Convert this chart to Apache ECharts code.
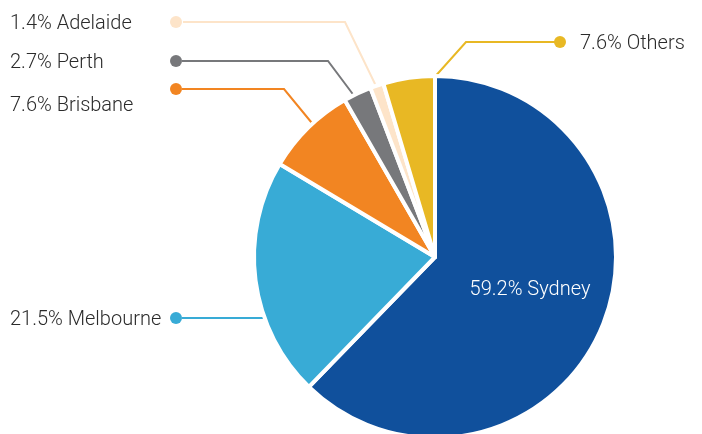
<!DOCTYPE html>
<html>
<head>
<meta charset="utf-8">
<script src="https://cdn.jsdelivr.net/npm/echarts@6/dist/echarts.min.js"></script>
<style>
  html, body { margin: 0; padding: 0; background: #fff; }
  #pieChart { width: 702px; height: 434px; }
</style>
</head>
<body>
<div id="pieChart"></div>
<script>
// data
const cities = ['Sydney', 'Melbourne', 'Brisbane', 'Perth', 'Adelaide', 'Others']
// share as printed in the labels (%)
const printedShares = [59.2, 21.5, 7.6, 2.7, 1.4, 7.6]
// share as the slices are drawn (measured from slice angles, %)
const sliceShares = [62.2, 21.3, 8.1, 2.5, 1.2, 4.6]

const colors = ['#10509c', '#38abd6', '#f28522', '#77787b', '#fde4c9', '#e8b824']

// where each label sits and how its leader line runs (Sydney sits inside)
const labelPlaces = [
  { x: 530, y: 290, align: 'center' },
  { x: 10, y: 318, line: [[268, 318], [220, 318], [182, 318]] },
  { x: 10, y: 89, line: [[316, 128], [284, 89], [182, 89]], drop: 34 },
  { x: 10, y: 61, line: [[355, 97], [328, 61], [182, 61]] },
  { x: 10, y: 22, line: [[377, 88], [345, 22], [183, 22]] },
  { x: 554, y: 42, line: [[432, 80], [466, 42], [556, 42]], dotFirst: true },
]

const textFont = { fontFamily: 'Roboto', fontWeight: 300, fontSize: 20, color: '#2b2b2b' }

function buildItem(name, i) {
  const text = printedShares[i].toFixed(1) + '% ' + name
  const place = labelPlaces[i]
  if (i === 0) {
    return {
      name: name,
      value: sliceShares[i],
      label: {
        position: 'inside',
        overflow: 'none',
        formatter: text,
        color: '#ffffff',
        fontFamily: 'Roboto',
        fontWeight: 300,
        fontSize: 20,
      },
      labelLine: { show: false },
    }
  }
  const dot = { width: 12, height: 12, borderRadius: 6, backgroundColor: colors[i] }
  // text sits a touch lower than the dot
  const textBox = Object.assign({ padding: [place.drop || 4, 0, 0, 0] }, textFont)
  let formatter
  let rich
  if (place.dotFirst) {
    formatter = '{d| }{s| }{t|' + text + '}'
    rich = { d: dot, s: { width: 14 }, t: textBox }
  } else {
    formatter = '{t|' + text + '}{d| }'
    textBox.width = 160
    rich = { t: textBox, d: dot }
  }
  return {
    name: name,
    value: sliceShares[i],
    label: { formatter: formatter, rich: rich, overflow: 'none' },
    labelLine: { show: true, lineStyle: { color: colors[i], width: 2 } },
  }
}

const myPieChart = echarts.init(document.getElementById('pieChart'))
myPieChart.setOption({
  animation: false,
  color: colors,
  series: [
    {
      type: 'pie',
      center: [435, 257],
      radius: 181,
      startAngle: 90,
      clockwise: true,
      silent: true,
      itemStyle: {
        borderColor: '#ffffff',
        borderWidth: 4,
      },
      label: { show: true, position: 'outside' },
      labelLine: { show: true, smooth: false },
      labelLayout: function (params) {
        const place = labelPlaces[params.dataIndex]
        const out = {
          x: place.x,
          y: place.y,
          align: place.align || 'left',
          verticalAlign: 'middle',
        }
        if (place.line) {
          out.labelLinePoints = place.line
        }
        return out
      },
      data: cities.map(buildItem),
    },
  ],
})
</script>
</body>
</html>
